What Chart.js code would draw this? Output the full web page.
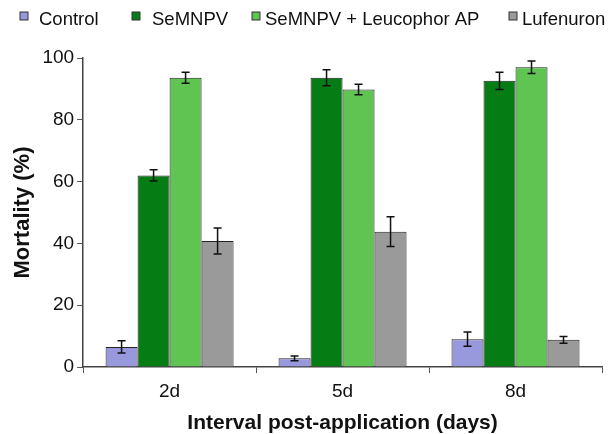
<!DOCTYPE html>
<html><head><meta charset="utf-8">
<script src="https://cdn.jsdelivr.net/npm/chart.js@4/dist/chart.umd.min.js"></script>
<style>html,body{margin:0;padding:0;background:#fff}#wrap{width:608px;height:434px}</style>
</head><body><div id="wrap"><canvas id="c" width="608" height="434"></canvas></div>
<script>
const categories = ['2d', '5d', '8d'];
const seriesNames = ['Control', 'SeMNPV', 'SeMNPV + Leucophor AP', 'Lufenuron'];
const control = [6.5, 2.8, 9.0];
const semnpv = [62.0, 93.6, 92.6];
const semnpvLeuco = [93.6, 89.8, 97.0];
const lufenuron = [40.8, 43.8, 8.8];
const controlErr = [2.0, 0.8, 2.3];
const semnpvErr = [1.8, 2.6, 2.8];
const semnpvLeucoErr = [1.8, 1.7, 2.0];
const lufenuronErr = [4.2, 4.8, 1.1];
const yTicks = [0, 20, 40, 60, 80, 100];
const colors = ['#9898dc', '#067c14', '#60c452', '#9a9a9a'];

const values = [control, semnpv, semnpvLeuco, lufenuron];
const errs = [controlErr, semnpvErr, semnpvLeucoErr, lufenuronErr];
const FONT = 'Liberation Sans, Arial, sans-serif';

const errorBars = {
  id: 'errorBars',
  afterDatasetsDraw(chart) {
    const ctx = chart.ctx;
    const y = chart.scales.y;
    ctx.save();
    ctx.strokeStyle = '#111';
    ctx.lineWidth = 1.5;
    chart.data.datasets.forEach((ds, i) => {
      const meta = chart.getDatasetMeta(i);
      meta.data.forEach((bar, j) => {
        const v = ds.data[j], e = ds.errs[j];
        const yTop = y.getPixelForValue(v + e);
        const yBot = y.getPixelForValue(v - e);
        const x = bar.x;
        ctx.beginPath();
        ctx.moveTo(x, yTop); ctx.lineTo(x, yBot);
        ctx.moveTo(x - 4, yTop); ctx.lineTo(x + 4, yTop);
        ctx.moveTo(x - 4, yBot); ctx.lineTo(x + 4, yBot);
        ctx.stroke();
      });
    });
    ctx.restore();
  }
};

// Legend drawn at the reference's (irregular) item positions
const legendLayout = { boxX: [20, 132, 252, 509], textX: [39, 152, 265, 522], boxY: 12, box: 8, textY: 20 };
const topLegend = {
  id: 'topLegend',
  afterDraw(chart) {
    const ctx = chart.ctx;
    ctx.save();
    ctx.font = '18.5px ' + FONT;
    ctx.textBaseline = 'middle';
    ctx.textAlign = 'left';
    chart.data.datasets.forEach((ds, i) => {
      const L = legendLayout;
      ctx.fillStyle = ds.backgroundColor;
      ctx.fillRect(L.boxX[i], L.boxY, L.box, L.box);
      ctx.strokeStyle = '#333';
      ctx.lineWidth = 1;
      ctx.strokeRect(L.boxX[i], L.boxY, L.box, L.box);
      ctx.fillStyle = '#111';
      ctx.fillText(ds.label, L.textX[i], L.textY);
    });
    ctx.restore();
  }
};

new Chart(document.getElementById('c'), {
  type: 'bar',
  data: {
    labels: categories,
    datasets: seriesNames.map((n, i) => ({
      label: n,
      data: values[i],
      errs: errs[i],
      backgroundColor: colors[i],
      borderColor: '#222',
      borderWidth: 1,
      barPercentage: 1.0,
      categoryPercentage: 0.74
    }))
  },
  options: {
    responsive: false,
    animation: false,
    layout: { padding: { left: 10, right: 6, top: 58, bottom: -2 } },
    plugins: {
      legend: { display: false },
      tooltip: { enabled: false }
    },
    scales: {
      x: {
        grid: { display: true, drawOnChartArea: false, offset: true, tickLength: 6, color: '#555' },
        border: { display: true, color: '#444', width: 1.5 },
        ticks: { color: '#111', font: { family: FONT, size: 19 }, padding: 7 },
        title: { display: true, text: 'Interval post-application (days)', color: '#111',
                 font: { family: FONT, size: 21, weight: 'bold' }, padding: { top: 1, bottom: 0 } }
      },
      y: {
        min: 0, max: 100,
        afterBuildTicks: (s) => { s.ticks = yTicks.map(v => ({ value: v })); },
        grid: { display: true, drawOnChartArea: false, tickLength: 6, color: '#555' },
        border: { display: true, color: '#444', width: 1.5 },
        ticks: { color: '#111', font: { family: FONT, size: 19 }, padding: 3 },
        title: { display: true, text: 'Mortality (%)', color: '#111',
                 font: { family: FONT, size: 22, weight: 'bold' }, padding: { top: 0, bottom: 3 } }
      }
    }
  },
  plugins: [errorBars, topLegend]
});
</script></body></html>
